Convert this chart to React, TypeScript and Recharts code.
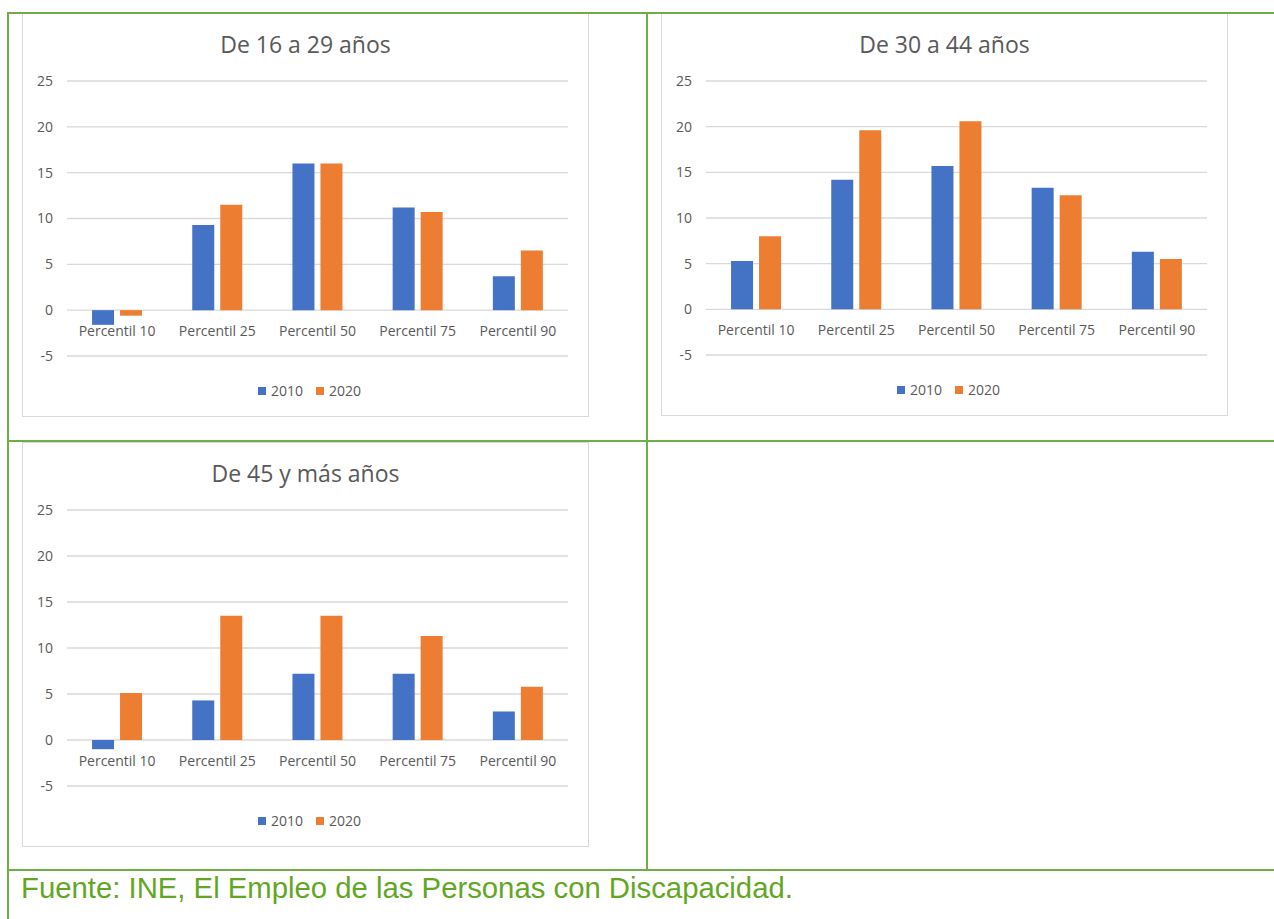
import { BarChart, Bar, XAxis, YAxis, CartesianGrid, Legend } from "recharts";

const categories = ["Percentil 10", "Percentil 25", "Percentil 50", "Percentil 75", "Percentil 90"];
const yTicks = [-5, 0, 5, 10, 15, 20, 25];

const joven2010 = [-1.6, 9.3, 16.0, 11.2, 3.7];
const joven2020 = [-0.6, 11.5, 16.0, 10.7, 6.5];
const medio2010 = [5.3, 14.2, 15.7, 13.3, 6.3];
const medio2020 = [8.0, 19.6, 20.6, 12.5, 5.5];
const mayor2010 = [-1.0, 4.3, 7.2, 7.2, 3.1];
const mayor2020 = [5.1, 13.5, 13.5, 11.3, 5.8];

const FONT = "'Open Sans', sans-serif";
const GREEN = "#70ad47";
const GREY_TEXT = "#595959";

function toRows(a: number[], b: number[]) {
  return categories.map((name, i) => ({ name, y2010: a[i], y2020: b[i] }));
}

// category labels sit just under the zero line, like Excel's crossing axis
function CategoryTick(props: any) {
  const { x, y, payload } = props;
  return (
    <text x={x} y={y - 28} textAnchor="middle" fill={GREY_TEXT} fontSize={14} fontFamily={FONT}>
      {payload.value}
    </text>
  );
}

function LegendBox(props: any) {
  const items = props.payload || [];
  return (
    <div
      style={{
        display: "flex",
        justifyContent: "center",
        paddingLeft: 8,
        fontFamily: FONT,
        fontSize: 14,
        lineHeight: "20px",
        color: GREY_TEXT,
      }}
    >
      {items.map((it: any, i: number) => (
        <div key={i} style={{ display: "flex", alignItems: "center", marginLeft: i ? 13 : 0 }}>
          <span style={{ width: 8, height: 8, background: it.color, marginRight: 5 }} />
          <span>{it.value}</span>
        </div>
      ))}
    </div>
  );
}

type PanelProps = {
  title: string;
  a: number[];
  b: number[];
  left: number;
  top: number;
  height: number;
};

function Panel({ title, a, b, left, top, height }: PanelProps) {
  const width = 567;
  return (
    <div style={{ position: "absolute", left, top, width, height }}>
      <div
        style={{
          position: "absolute",
          inset: 0,
          border: "1px solid #d9d9d9",
        }}
      />
      <BarChart
        width={width}
        height={height}
        data={toRows(a, b)}
        margin={{ top: 68, right: 21, bottom: 31, left: 0 }}
        barCategoryGap="25%"
        barGap={6}
      >
        <CartesianGrid vertical={false} stroke="#d9d9d9" strokeWidth={1.3} />
        <XAxis dataKey="name" height={30} axisLine={false} tickLine={false} tick={<CategoryTick />} interval={0} />
        <YAxis
          width={45}
          domain={[-5, 25]}
          ticks={yTicks}
          axisLine={false}
          tickLine={false}
          tickMargin={8}
          tick={{ fill: GREY_TEXT, fontSize: 14, fontFamily: FONT }}
        />
        <Legend
          layout="horizontal"
          verticalAlign="middle"
          align="center"
          wrapperStyle={{ top: height - 36, left: 0, width }}
          content={<LegendBox />}
        />
        <Bar dataKey="y2010" name="2010" fill="#4472c4" isAnimationActive={false} />
        <Bar dataKey="y2020" name="2020" fill="#ed7d31" isAnimationActive={false} />
      </BarChart>
      <div
        style={{
          position: "absolute",
          left: 0,
          top: 19,
          width,
          textAlign: "center",
          fontFamily: FONT,
          fontSize: 23,
          lineHeight: "24px",
          color: GREY_TEXT,
        }}
      >
        {title}
      </div>
    </div>
  );
}

function Line({ x, y, w, h }: { x: number; y: number; w: number; h: number }) {
  return <div style={{ position: "absolute", left: x, top: y, width: w, height: h, background: GREEN }} />;
}

export default function App() {
  return (
    <div
      style={{
        position: "absolute",
        left: 0,
        top: 0,
        width: 1274,
        height: 919,
        background: "#fff",
        overflow: "hidden",
      }}
    >
      <Panel title="De 16 a 29 años" a={joven2010} b={joven2020} left={22} top={13} height={404} />
      <Panel title="De 30 a 44 años" a={medio2010} b={medio2020} left={661} top={13} height={403} />
      <Panel title="De 45 y más años" a={mayor2010} b={mayor2020} left={22} top={442} height={405} />

      {/* table borders */}
      <Line x={7} y={12} w={1267} h={2} />
      <Line x={7} y={12} w={2} h={907} />
      <Line x={646} y={12} w={2} h={859} />
      <Line x={7} y={440} w={1267} h={2} />
      <Line x={7} y={869} w={1267} h={2} />

      <div
        style={{
          position: "absolute",
          left: 21,
          top: 871,
          fontFamily: "'Liberation Sans', Arial, sans-serif",
          fontSize: 29.3,
          lineHeight: "34px",
          color: "#62a723",
          whiteSpace: "nowrap",
        }}
      >
        Fuente: INE, El Empleo de las Personas con Discapacidad.
      </div>
    </div>
  );
}
